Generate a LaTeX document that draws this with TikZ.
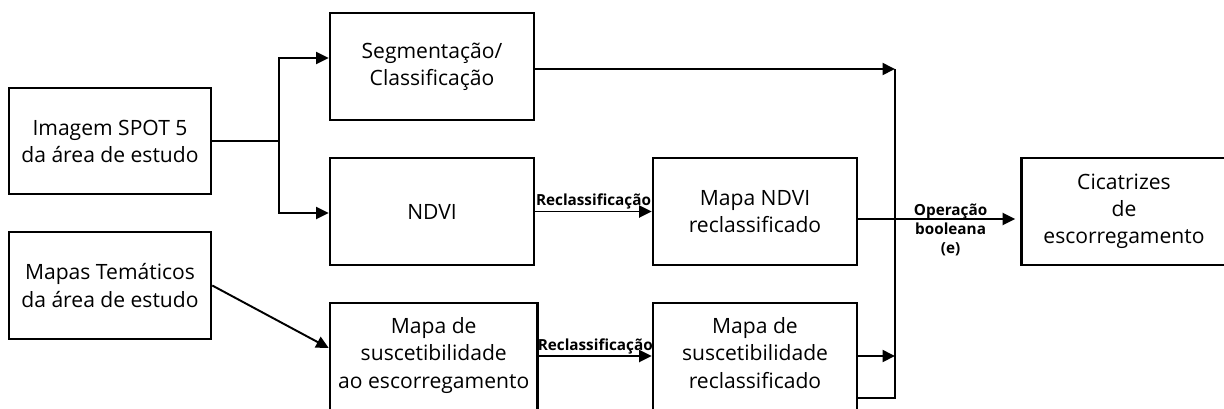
\documentclass[tikz,border=0pt]{standalone}
\usepackage{fontspec}
\setmainfont{Open Sans}
\usetikzlibrary{arrows.meta}

\begin{document}
\begin{tikzpicture}[x=0.02cm, y=-0.02cm,
    caixa/.style={draw, line width=1.5pt, align=center, inner sep=1pt,
        font=\fontsize{12}{15.4}\selectfont},
    seta/.style={-{Triangle[length=0.25cm, width=0.24cm]}, line width=1.1pt},
    linha/.style={line width=1.1pt},
    rotulo/.style={align=center, inner sep=0.5pt,
        font=\bfseries\fontsize{8.7}{10.8}\selectfont}]

            \clip (0,0) rectangle (1224,409);

            \node[caixa, minimum width=4.04cm, minimum height=2.12cm] (img) at (110,141) {Imagem SPOT 5\\da área de estudo};
            \node[caixa, minimum width=4.04cm, minimum height=2.14cm] (tem) at (110,285.5) {Mapas Temáticos\\da área de estudo};
            \node[caixa, minimum width=4.08cm, minimum height=2.14cm] (seg) at (432,66.5) {Segmentação/\\Classificação};
            \node[caixa, minimum width=4.08cm, minimum height=2.14cm] (ndvi) at (432,211.5) {NDVI};
            \node[caixa, minimum width=4.15cm, minimum height=2.54cm] (susc) at (433.75,366.5) {Mapa de\\suscetibilidade\\ao escorregamento\\\mbox{}};
            \node[caixa, minimum width=4.08cm, minimum height=2.14cm] (ndvir) at (755,211.5) {Mapa NDVI\\reclassificado};
            \node[caixa, minimum width=4.08cm, minimum height=2.54cm] (suscr) at (755,366.5) {Mapa de\\suscetibilidade\\reclassificado\\\mbox{}};
            \node[caixa, minimum width=4.1cm, minimum height=2.14cm] (cic) at (1124,211.5) {Cicatrizes\\de\\escorregamento};

            \coordinate (b) at (279,141);
            \coordinate (b1) at (279,58);
            \coordinate (b2) at (279,213);
            \coordinate (j1) at (895,69);
            \coordinate (j2) at (895,356);
            \coordinate (j3) at (895,398);

            \draw[linha] (img.east) -- (b);
            \draw[seta] (b) -- (b1) -- (seg.west |- b1);
            \draw[seta] (b) -- (b2) -- (ndvi.west |- b2);
            \draw[seta] (tem.east) -- ([yshift=0.37cm]susc.west);
            \draw[seta] (ndvi) -- node[rotulo, above] (r1) {Reclassificação} (ndvir);
            \draw[seta] (susc.east |- j2) -- node[rotulo, above] (r2) {Reclassificação} (suscr.west |- j2);
            \draw[seta] (seg.east |- j1) -- (j1);
            \draw[seta] (suscr.east |- j2) -- (j2);
            \draw[linha] (suscr.east |- j3) -- (j3) -- (j1);
            \draw[seta, shorten >=0.1cm] ([yshift=-0.15cm]ndvir.east) -- node[rotulo, pos=0.57, yshift=-0.22cm] (op) {Operação\\booleana\\(e)} ([yshift=-0.15cm]cic.west);
        \end{tikzpicture}
\end{document}
